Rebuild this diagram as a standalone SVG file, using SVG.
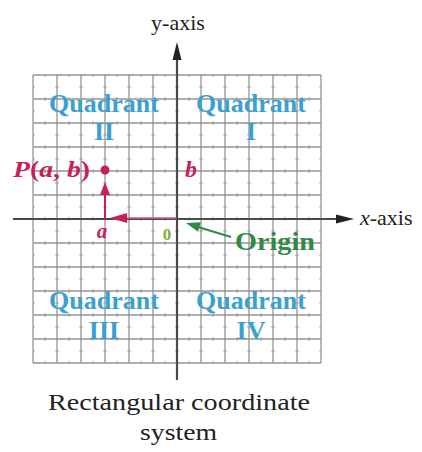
<svg xmlns="http://www.w3.org/2000/svg" width="422" height="452" viewBox="0 0 422 452">
<style>
.grid{stroke:#949494;stroke-width:1.3;fill:none}
.tick{stroke:#a8a8a8;stroke-width:1}
.axis{stroke:#4a4a4a;stroke-width:2.2;fill:none}
.ah{fill:#222}
.quad{font-family:"Liberation Serif","Times New Roman",serif;font-weight:bold;font-size:26px;fill:#3aa0d2;text-anchor:middle}
.red{fill:#c81e5a}
.redl{stroke:#c81e5a;stroke-width:2;fill:none}
.lbl{font-family:"Liberation Serif","Times New Roman",serif;fill:#222}
.green{fill:#2f8a45}
</style>
<defs>
<pattern id="ticks" patternUnits="userSpaceOnUse" x="27" y="69" width="24" height="24">
<line class="tick" x1="4" y1="18" x2="8" y2="18"/>
<line class="tick" x1="18" y1="4" x2="18" y2="8"/>
</pattern>
</defs>
<rect width="422" height="452" fill="#ffffff"/>
<g id="grid">
<rect x="33" y="75" width="288" height="288" fill="url(#ticks)"/>
<path class="grid" d="M33 75V363M57 75V363M81 75V363M105 75V363M129 75V363M153 75V363M201 75V363M225 75V363M249 75V363M273 75V363M297 75V363M321 75V363M33 75H321M33 99H321M33 123H321M33 147H321M33 171H321M33 195H321M33 243H321M33 267H321M33 291H321M33 315H321M33 339H321M33 363H321"/>
</g>
<g id="connectors">
<line class="axis" x1="13" y1="219" x2="340" y2="219"/>
<polygon class="ah" points="354,219 336,214.5 336,223.5"/>
<line class="axis" x1="177" y1="380" x2="177" y2="58"/>
<polygon class="ah" points="177,42 172.5,60 181.5,60"/>
<line stroke="#d8577e" stroke-width="1.6" x1="176" y1="218" x2="124" y2="218"/>
<polygon class="red" points="110,218 127,213 127,223"/>
<line class="redl" x1="105" y1="219" x2="105" y2="190"/>
<polygon class="red" points="105,182 100,195 110,195"/>
<line stroke="#2f8a45" stroke-width="2.2" x1="231" y1="237" x2="198" y2="227"/>
<polygon class="green" points="186,223 200.8,222.2 198,231.8"/>
</g>
<g id="point-P">
<circle class="red" cx="105" cy="170" r="4.5"/>
<text x="13" y="177" font-family="Liberation Serif,serif" font-weight="bold" font-size="24" class="red" textLength="77" lengthAdjust="spacingAndGlyphs"><tspan font-style="italic">P</tspan>(<tspan font-style="italic">a</tspan>, <tspan font-style="italic">b</tspan>)</text>
</g>
<g id="label-a"><text x="102" y="238" text-anchor="middle" font-family="Liberation Serif,serif" font-weight="bold" font-style="italic" font-size="21" class="red">a</text></g>
<g id="label-b"><text x="191" y="177" text-anchor="middle" font-family="Liberation Serif,serif" font-weight="bold" font-style="italic" font-size="24" class="red">b</text></g>
<g id="label-0"><text x="167" y="240" text-anchor="middle" font-family="Liberation Serif,serif" font-weight="bold" font-size="17" fill="#7fae3a">0</text></g>
<g id="origin"><text x="235" y="250" font-family="Liberation Serif,serif" font-weight="bold" font-size="26" class="green" textLength="80" lengthAdjust="spacingAndGlyphs">Origin</text></g>
<g id="quadrant-II"><text class="quad" x="104" y="112">Quadrant</text><text class="quad" x="104" y="140">II</text></g>
<g id="quadrant-I"><text class="quad" x="251" y="112">Quadrant</text><text class="quad" x="251" y="140">I</text></g>
<g id="quadrant-III"><text class="quad" x="104" y="309">Quadrant</text><text class="quad" x="104" y="339">III</text></g>
<g id="quadrant-IV"><text class="quad" x="251" y="309">Quadrant</text><text class="quad" x="251" y="339">IV</text></g>
<g id="y-axis-label"><text class="lbl" x="178" y="30" text-anchor="middle" font-size="22">y-axis</text></g>
<g id="x-axis-label"><text class="lbl" x="360" y="225" font-size="22"><tspan font-style="italic">x</tspan>-axis</text></g>
<g id="caption">
<text class="lbl" x="48" y="410" font-size="24" textLength="262" lengthAdjust="spacingAndGlyphs">Rectangular coordinate</text>
<text class="lbl" x="140" y="440" font-size="24" textLength="77" lengthAdjust="spacingAndGlyphs">system</text>
</g>
</svg>
